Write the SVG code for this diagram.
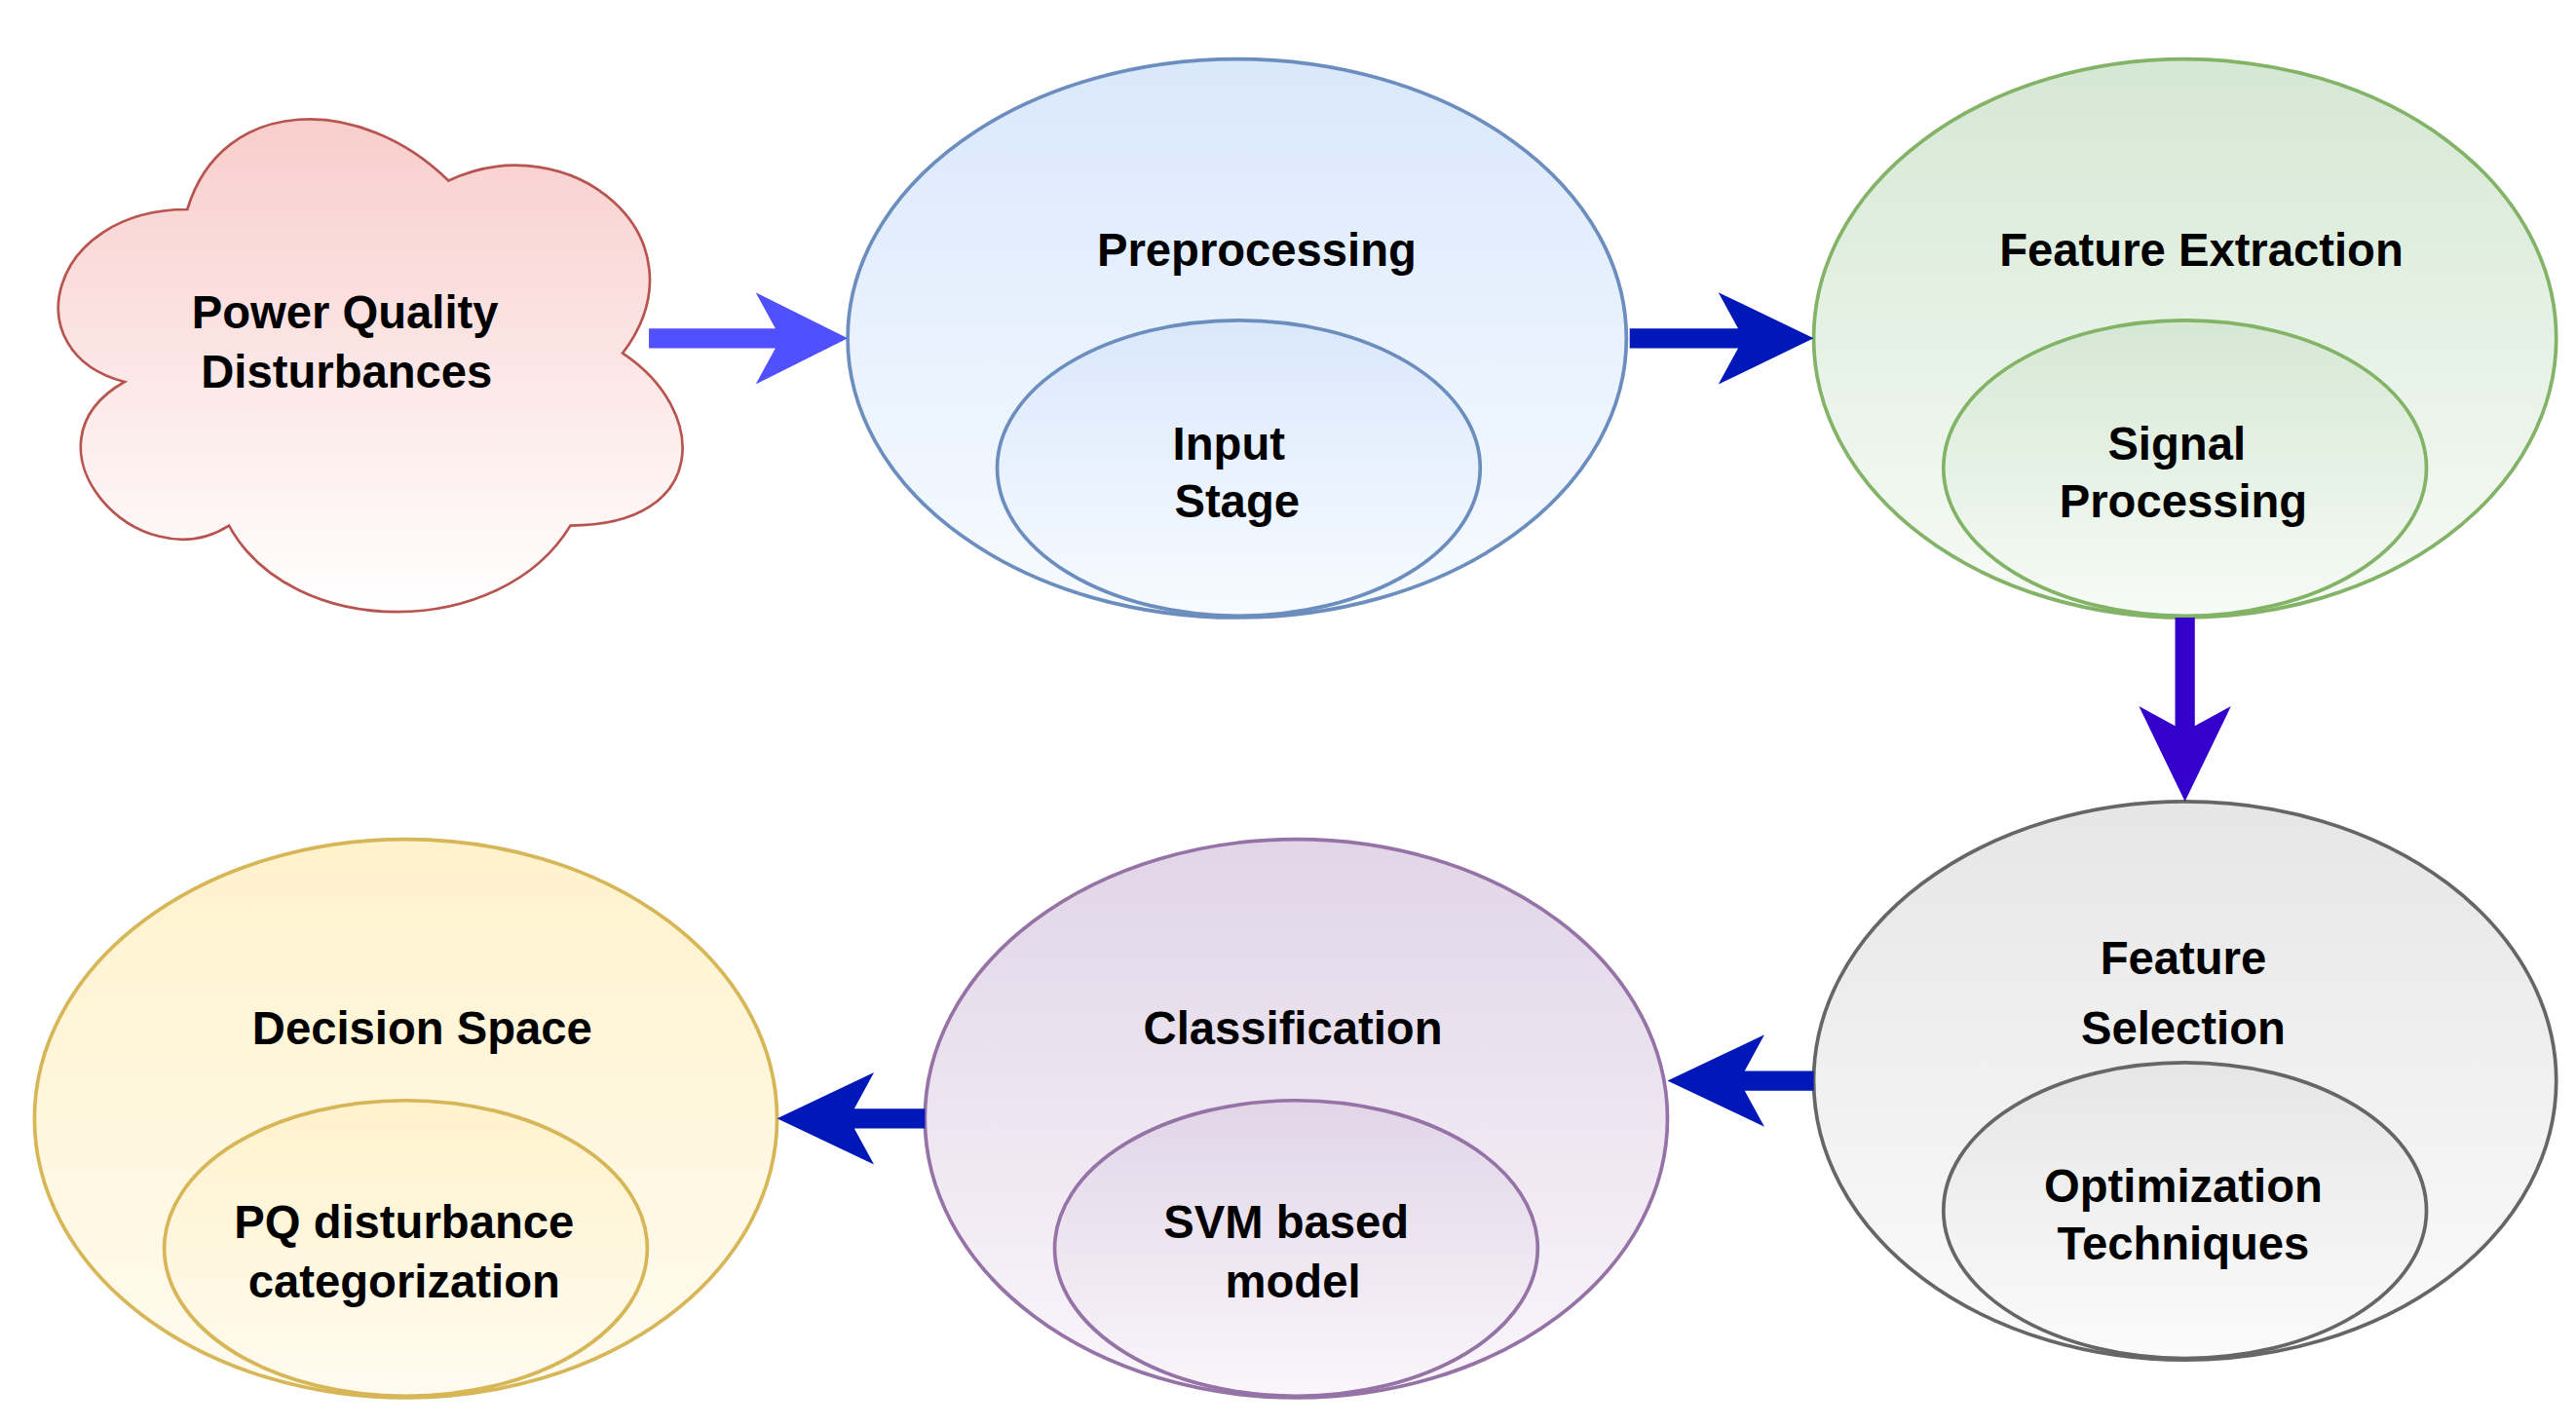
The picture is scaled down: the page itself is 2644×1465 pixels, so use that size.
<svg xmlns="http://www.w3.org/2000/svg" width="2644" height="1465" viewBox="0 0 2644 1465">
<style>
text{font-family:"Liberation Sans",Arial,sans-serif;font-weight:bold;font-size:28px;fill:#000;text-anchor:middle}
.o,.i{stroke-width:2.2}
</style>
<defs>
<linearGradient id="gr" x1="0" y1="0" x2="0" y2="1"><stop offset="0" stop-color="#f8cecc"/><stop offset="1" stop-color="#ffffff"/></linearGradient>
<linearGradient id="gb" x1="0" y1="0" x2="0" y2="1"><stop offset="0" stop-color="#dae8fc"/><stop offset="1" stop-color="#f7fbff"/></linearGradient>
<linearGradient id="gg" x1="0" y1="0" x2="0" y2="1"><stop offset="0" stop-color="#d5e8d4"/><stop offset="1" stop-color="#f7fbf6"/></linearGradient>
<linearGradient id="gs" x1="0" y1="0" x2="0" y2="1"><stop offset="0" stop-color="#e6e6e6"/><stop offset="1" stop-color="#fbfbfb"/></linearGradient>
<linearGradient id="gp" x1="0" y1="0" x2="0" y2="1"><stop offset="0" stop-color="#e1d5e7"/><stop offset="1" stop-color="#faf6fb"/></linearGradient>
<linearGradient id="gy" x1="0" y1="0" x2="0" y2="1"><stop offset="0" stop-color="#fff2cc"/><stop offset="1" stop-color="#fffbf0"/></linearGradient>
</defs>
<rect width="2644" height="1465" fill="#fff"/>
<g transform="scale(1.6862)">
<g id="cloud">
<path d="M114,127.5 C29.2,127.5 8,215 75.8,232.5 C8,271 84.3,355 139.4,320 C177.6,390 304.8,390 347.2,320 C432,320 432,250 379,215 C432,145 347.2,75 273,110 C220,57.5 135.2,57.5 114,127.5 Z" fill="url(#gr)" stroke="#b85450" stroke-width="1.6"/>
<text x="210" y="200">Power Quality</text><text x="211" y="236">Disturbances</text>
</g>
<g id="pre">
<ellipse cx="753" cy="206" rx="237" ry="170" fill="url(#gb)" stroke="#6c8ebf" class="o"/>
<ellipse cx="754" cy="285" rx="147" ry="90" fill="url(#gb)" stroke="#6c8ebf" class="i"/>
<text x="765" y="162">Preprocessing</text><text x="748" y="280">Input</text><text x="753" y="315">Stage</text>
</g>
<g id="fe">
<ellipse cx="1330" cy="206" rx="226" ry="170" fill="url(#gg)" stroke="#82b366" class="o"/>
<ellipse cx="1330" cy="285" rx="147" ry="90" fill="url(#gg)" stroke="#82b366" class="i"/>
<text x="1340" y="162">Feature Extraction</text><text x="1325" y="280">Signal</text><text x="1329" y="315">Processing</text>
</g>
<g id="fs">
<ellipse cx="1330" cy="658" rx="226" ry="170" fill="url(#gs)" stroke="#666666" class="o"/>
<ellipse cx="1330" cy="737" rx="147" ry="90" fill="url(#gs)" stroke="#666666" class="i"/>
<text x="1329" y="593">Feature</text><text x="1329" y="636">Selection</text><text x="1329" y="732">Optimization</text><text x="1329" y="767">Techniques</text>
</g>
<g id="cls">
<ellipse cx="789" cy="681" rx="226" ry="170" fill="url(#gp)" stroke="#9673a6" class="o"/>
<ellipse cx="789" cy="760" rx="147" ry="90" fill="url(#gp)" stroke="#9673a6" class="i"/>
<text x="787" y="636">Classification</text><text x="783" y="754">SVM based</text><text x="787" y="790">model</text>
</g>
<g id="dec">
<ellipse cx="247" cy="681" rx="226" ry="170" fill="url(#gy)" stroke="#d6b656" class="o"/>
<ellipse cx="247" cy="760" rx="147" ry="90" fill="url(#gy)" stroke="#d6b656" class="i"/>
<text x="257" y="636">Decision Space</text><text x="246" y="754">PQ disturbance</text><text x="246" y="790">categorization</text>
</g>
<g id="connectors">
<path d="M395,200 H472 L460,178 L516,206 L460,234 L472,212 H395 Z" fill="#5050ff"/>
<path d="M992,200 H1058 L1046,178 L1104,206 L1046,234 L1058,212 H992 Z" fill="#0018b8"/>
<path d="M1324,376 V442 L1302,430 L1330,488 L1358,430 L1336,442 V376 Z" fill="#3300cc"/>
<path d="M1104,652 H1062 L1074,630 L1015,658 L1074,686 L1062,664 H1104 Z" fill="#0018b8"/>
<path d="M563,675 H520 L532,653 L473,681 L532,709 L520,687 H563 Z" fill="#0018b8"/>
</g>
</g>
</svg>
